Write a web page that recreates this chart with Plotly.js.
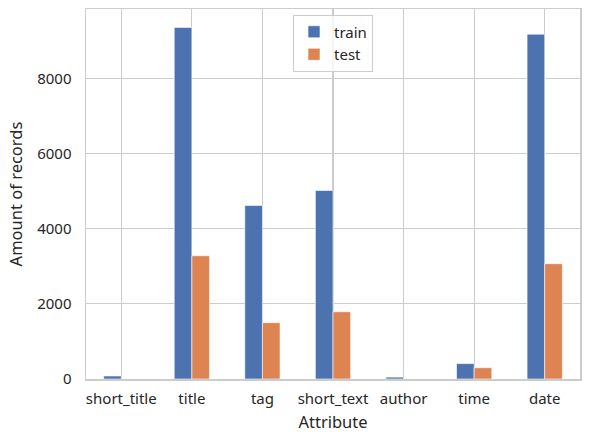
<!DOCTYPE html>
<html>
<head>
<meta charset="utf-8">
<script src="https://cdn.plot.ly/plotly-3.0.1.min.js"></script>
<style>
  html, body { margin: 0; padding: 0; background: #fff; }
  #chart { width: 591px; height: 442px; }
</style>
</head>
<body>
<div id="chart"></div>
<script>
const attributes = ['short_title', 'title', 'tag', 'short_text', 'author', 'time', 'date'];
const trainCounts = [80, 9360, 4620, 5020, 50, 410, 9180];
const testCounts = [0, 3280, 1500, 1790, 0, 300, 3070];

const font = { family: 'Noto Sans, Open Sans, sans-serif', color: '#262626' };

const data = [
    {
        x: attributes, y: trainCounts, name: 'train', type: 'bar',
        marker: { color: '#4c72b0', line: { color: '#ffffff', width: 0.6 } }
    },
    {
        x: attributes, y: testCounts, name: 'test', type: 'bar',
        marker: { color: '#dd8452', line: { color: '#ffffff', width: 0.6 } }
    }
];

const layout = {
    width: 591,
    height: 442,
    margin: { l: 86, r: 11, t: 9, b: 63 },
    paper_bgcolor: '#ffffff',
    plot_bgcolor: '#ffffff',
    font: font,
    barmode: 'group',
    bargap: 0.5,
    bargroupgap: 0,
    showlegend: true,
    legend: {
        x: 0.5, xanchor: 'center', y: 0.985, yanchor: 'top',
        bordercolor: '#cccccc', borderwidth: 1, bgcolor: 'rgba(255,255,255,0.8)',
        font: { family: font.family, size: 15, color: '#262626' },
        traceorder: 'normal'
    },
    xaxis: {
        type: 'category',
        showgrid: true, gridcolor: '#cccccc', gridwidth: 1.2,
        showline: true, linecolor: '#cccccc', linewidth: 1.5, mirror: true,
        ticks: '', tickfont: { size: 15 }, ticklabelstandoff: 5,
        title: { text: 'Attribute', font: { size: 16.5 }, standoff: 10 }
    },
    yaxis: {
        range: [0, 9850],
        tickvals: [0, 2000, 4000, 6000, 8000],
        showgrid: true, gridcolor: '#cccccc', gridwidth: 1.2,
        zeroline: false,
        showline: true, linecolor: '#cccccc', linewidth: 1.5, mirror: true,
        ticks: '', tickfont: { size: 15 }, ticklabelstandoff: 10,
        title: { text: 'Amount of records', font: { size: 16.5 }, standoff: 10 }
    }
};

Plotly.newPlot('chart', data, layout, { displayModeBar: false, staticPlot: true });
</script>
</body>
</html>
